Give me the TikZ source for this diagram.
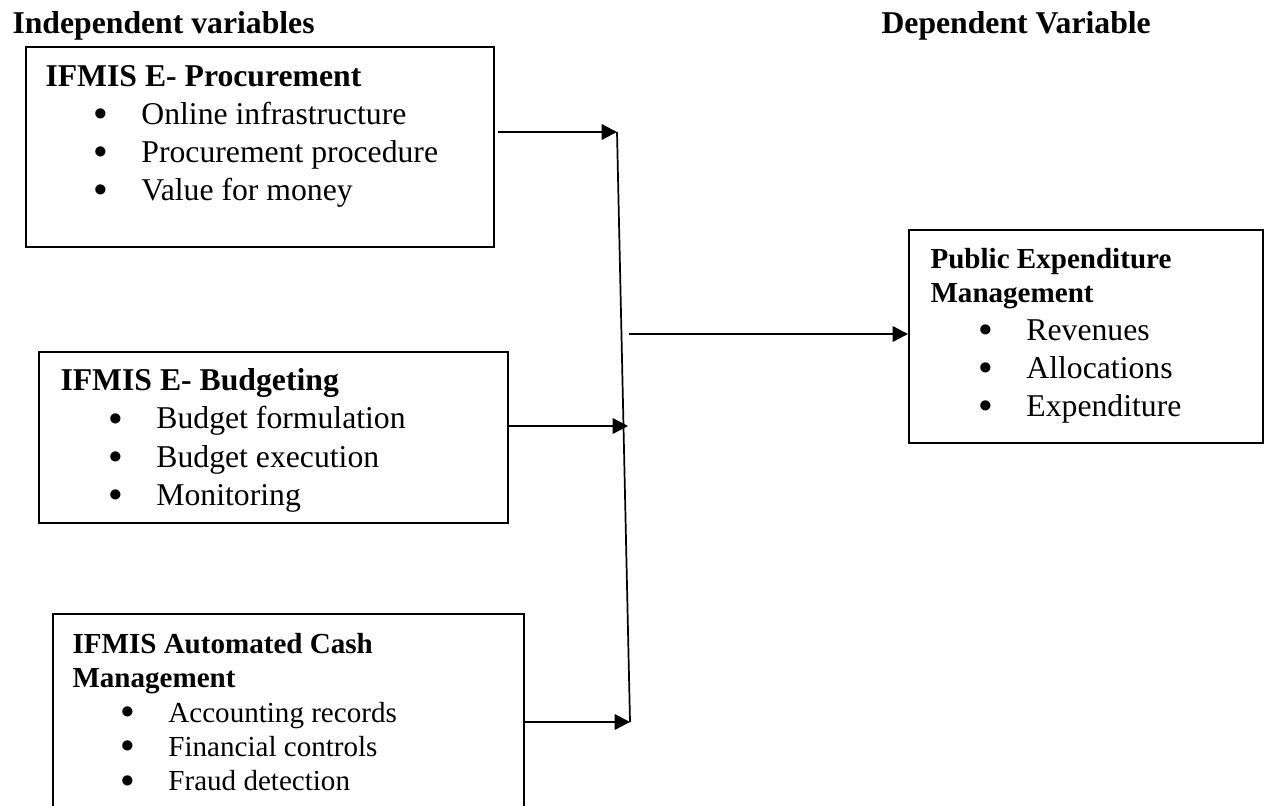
\documentclass[tikz,border=0pt]{standalone}
\usepackage{fontspec}
\setmainfont{Liberation Serif}
\usetikzlibrary{arrows.meta}

\newcommand{\pxu}{0.3785}
\newcommand{\itm}[1]{\hspace*{18.3pt}\makebox[18pt][l]{\raisebox{1.4pt}{\fontsize{10}{10}\selectfont$\bullet$}}#1}
\newcommand{\tope}{\rule{0pt}{10pt}}

\tikzset{
  caja/.style={draw, line width=0.75pt, inner sep=0pt, anchor=north west},
  texto/.style={inner sep=0pt, anchor=north west, yshift=10pt, align=left,
    font=\fontsize{12}{14.4}\selectfont},
  cabecera/.style={inner sep=0pt, anchor=base west,
    font=\fontsize{12}{14.4}\selectfont\bfseries},
  flecha/.style={line width=0.9pt, -{Triangle[length=5.8pt,width=5.8pt]}}
}

\begin{document}
\begin{tikzpicture}[x=0.3785pt, y=-0.3785pt]
            \useasboundingbox (0,0) rectangle (1269,805);
            \clip (0,0) rectangle (1269,805);

            % Cabeceras
            \node[cabecera] (indep) at (12,33) {Independent variables};
            \node[cabecera] (dep) at (881,33) {Dependent Variable};

            % Cajas
            \node[caja, minimum width=468*\pxu, minimum height=200*\pxu] (proc) at (25,46) {};
            \node[caja, minimum width=469*\pxu, minimum height=171*\pxu] (budg) at (38,351) {};
            \node[caja, minimum width=471*\pxu, minimum height=240*\pxu] (cash) at (52,613) {};
            \node[caja, minimum width=354*\pxu, minimum height=213*\pxu] (pem) at (908,229) {};

            % Textos
            \node[texto] (proct) at (45,86) {\tope\textbf{IFMIS E- Procurement}\\
              \itm{Online infrastructure}\\ \itm{Procurement procedure}\\ \itm{Value for money}};
            \node[texto, font=\fontsize{12}{14.5}\selectfont] (budgt) at (60,390) {\tope\textbf{IFMIS E- Budgeting}\\
              \itm{Budget formulation}\\ \itm{Budget execution}\\ \itm{Monitoring}};
            \node[texto, font=\fontsize{11}{13}\selectfont] (casht) at (72,653) {\tope\textbf{IFMIS Automated Cash}\\
              \textbf{Management}\\ \itm{Accounting records}\\ \itm{Financial controls}\\ \itm{Fraud detection}};
            \node[texto, font=\fontsize{12}{14.3}\selectfont] (pemt) at (930,268) {\tope\fontsize{11}{13}\selectfont\textbf{Public Expenditure}\\[-1.3pt]
              \fontsize{11}{13}\selectfont\textbf{Management}\\ \itm{Revenues}\\ \itm{Allocations}\\ \itm{Expenditure}};

            % Uniones
            \coordinate (j1) at (617,132);
            \coordinate (j2) at (628,426);
            \coordinate (j3) at (630,722);
            \coordinate (s) at (629,334);

            % Flechas
            \draw[flecha, shorten <=1.1pt] (proc.east |- j1) -- (j1);
            \draw[flecha] (budg.east |- j2) -- (j2);
            \draw[flecha] (cash.east |- j3) -- (j3);
            \draw[line width=0.65pt] (j1) -- (j3);
            \draw[flecha] (s) -- (pem.west |- s);
\end{tikzpicture}
\end{document}
